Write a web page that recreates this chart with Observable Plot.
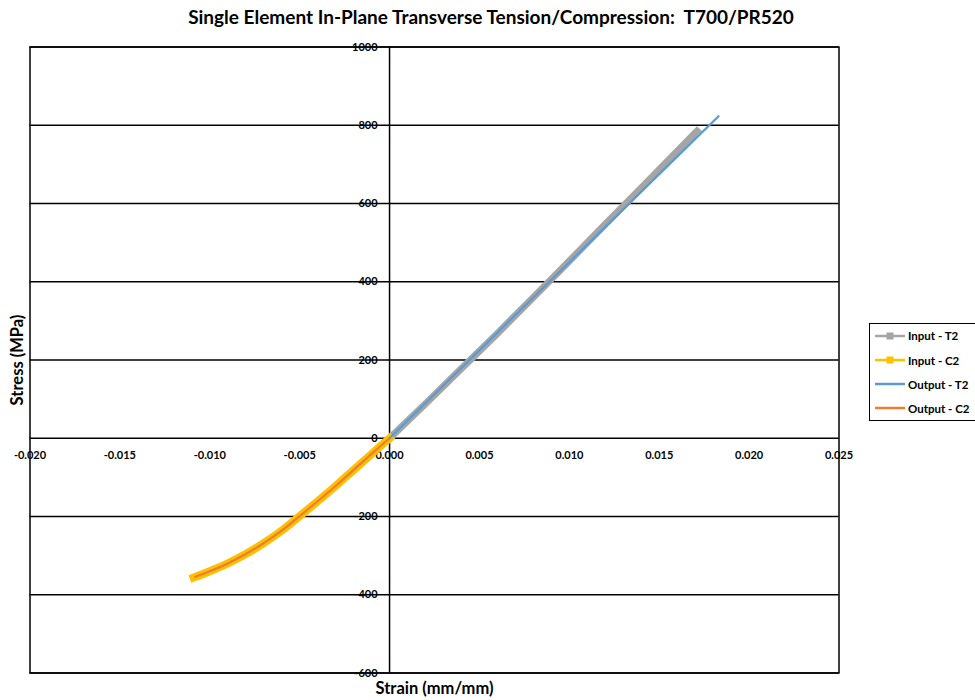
<!DOCTYPE html>
<html>
<head>
<meta charset="utf-8">
<script src="https://cdn.jsdelivr.net/npm/d3@7"></script>
<script src="https://cdn.jsdelivr.net/npm/@observablehq/plot@0.6"></script>
<style>
  body { margin: 0; background: #fff; }
  #chart { position: relative; width: 975px; height: 700px; overflow: hidden; font-family: Lato, "Open Sans", sans-serif; }
  #chart > svg { position: absolute; left: 0; top: 0; }
  #title { position: absolute; top: 6px; left: 491px; transform: translateX(-50%); white-space: nowrap; font-weight: bold; font-size: 19px; line-height: 22px; color: #000; }
  #legend { position: absolute; left: 869px; top: 323px; width: 130px; height: 98px; border: 1.5px solid #000; box-sizing: border-box; background: #fff; }
  .item { position: absolute; left: 4.5px; height: 16px; display: flex; align-items: center; font-weight: bold; font-size: 11.5px; color: #000; white-space: nowrap; }
  .item svg { display: block; margin-right: 3.5px; flex: none; }
</style>
</head>
<body>
<div id="chart">
  <div id="title">Single Element In-Plane Transverse Tension/Compression:&nbsp; T700/PR520</div>
  <div id="legend"></div>
</div>
<script>
// Axis ticks
const strainTicks = [-0.020, -0.015, -0.010, -0.005, 0.000, 0.005, 0.010, 0.015, 0.020, 0.025];
const stressTicks = [-600, -400, -200, 0, 200, 400, 600, 800, 1000];

// Input - T2 (tension test curve)
const t2InStrain = [0, 0.002, 0.004, 0.006, 0.008, 0.010, 0.012, 0.014, 0.0155, 0.0171];
const t2InStress = [0, 88, 178, 268, 360, 453, 547, 640, 710, 785];

// Input - C2 (compression test curve)
const c2InStrain = [0, -0.001, -0.002, -0.003, -0.004, -0.005, -0.006, -0.007, -0.008, -0.009, -0.010, -0.0109];
const c2InStress = [0, -40, -81, -122, -161, -199, -236, -268, -296, -320, -340, -356];

// Output - T2 (simulation)
const t2OutStrain = [0, 0.005, 0.010, 0.015, 0.0183];
const t2OutStress = [0, 225, 450, 675, 823];

// Output - C2 (simulation)
const c2OutStrain = [0, -0.001, -0.002, -0.003, -0.004, -0.005, -0.006, -0.007, -0.008, -0.009, -0.010, -0.0108];
const c2OutStress = [0, -40, -81, -122, -161, -199, -236, -268, -296, -320, -340, -354];

const seriesNames = ["Input - T2", "Input - C2", "Output - T2", "Output - C2"];
const seriesColors = ["#A5A5A5", "#FFC000", "#5B9BD5", "#ED7D31"];

const toRows = (xs, ys) => xs.map((x, i) => ({strain: x, stress: ys[i]}));
const t2In = toRows(t2InStrain, t2InStress);
const c2In = toRows(c2InStrain, c2InStress);
const t2Out = toRows(t2OutStrain, t2OutStress);
const c2Out = toRows(c2OutStrain, c2OutStress);

const fmtStrain = d => d3.format(".3f")(d).replace("−", "-");
const fmtStress = d => d3.format("d")(d).replace("−", "-");

const chart = Plot.plot({
  width: 975,
  height: 700,
  marginLeft: 29.5,
  marginRight: 136.5,
  marginTop: 46.5,
  marginBottom: 27.5,
  style: {fontFamily: "Lato, 'Open Sans', sans-serif", background: "transparent", overflow: "visible"},
  x: {domain: [-0.020, 0.025], axis: null},
  y: {domain: [-600, 1000], axis: null},
  marks: [
    Plot.ruleY(stressTicks, {stroke: "#000", strokeWidth: 1.5}),
    Plot.ruleX([0], {stroke: "#000", strokeWidth: 1.5}),
    Plot.frame({stroke: "#000", strokeWidth: 1.5}),
    Plot.text(stressTicks, {x: 0, y: d => d, text: fmtStress, textAnchor: "end", dx: -12, fontSize: 11, fontWeight: "bold", fill: "#000"}),
    Plot.text(strainTicks, {x: d => d, y: 0, text: fmtStrain, dy: 17.5, fontSize: 11, fontWeight: "bold", fill: "#000"}),
    Plot.text(["Stress (MPa)"], {frameAnchor: "left", dx: -12, rotate: -90, textAnchor: "middle", lineAnchor: "middle", text: d => d, fontSize: 16.5, fontWeight: "bold", fill: "#000"}),
    Plot.text(["Strain (mm/mm)"], {frameAnchor: "bottom", dy: 15.5, textAnchor: "middle", lineAnchor: "middle", text: d => d, fontSize: 16.5, fontWeight: "bold", fill: "#000"}),
    Plot.line(t2In, {x: "strain", y: "stress", stroke: seriesColors[0], strokeWidth: 7, strokeLinecap: "square"}),
    Plot.line(c2In, {x: "strain", y: "stress", stroke: seriesColors[1], strokeWidth: 8, strokeLinecap: "square", curve: "catmull-rom"}),
    Plot.line(t2Out, {x: "strain", y: "stress", stroke: seriesColors[2], strokeWidth: 2.25}),
    Plot.line(c2Out, {x: "strain", y: "stress", stroke: seriesColors[3], strokeWidth: 2.25, curve: "catmull-rom"})
  ]
});
document.getElementById("chart").prepend(chart);

// Legend
const legend = document.getElementById("legend");
const rowTops = [3.5, 28, 52, 76];
seriesNames.forEach((name, i) => {
  const item = document.createElement("div");
  item.className = "item";
  item.style.top = rowTops[i] + "px";
  const marker = i < 2 ? `<rect x="11.5" y="1.5" width="7" height="7" fill="${seriesColors[i]}"/>` : "";
  item.innerHTML = `<svg width="30" height="10"><line x1="0" x2="30" y1="5" y2="5" stroke="${seriesColors[i]}" stroke-width="2.5"/>${marker}</svg><span>${name}</span>`;
  legend.appendChild(item);
});
</script>
</body>
</html>
